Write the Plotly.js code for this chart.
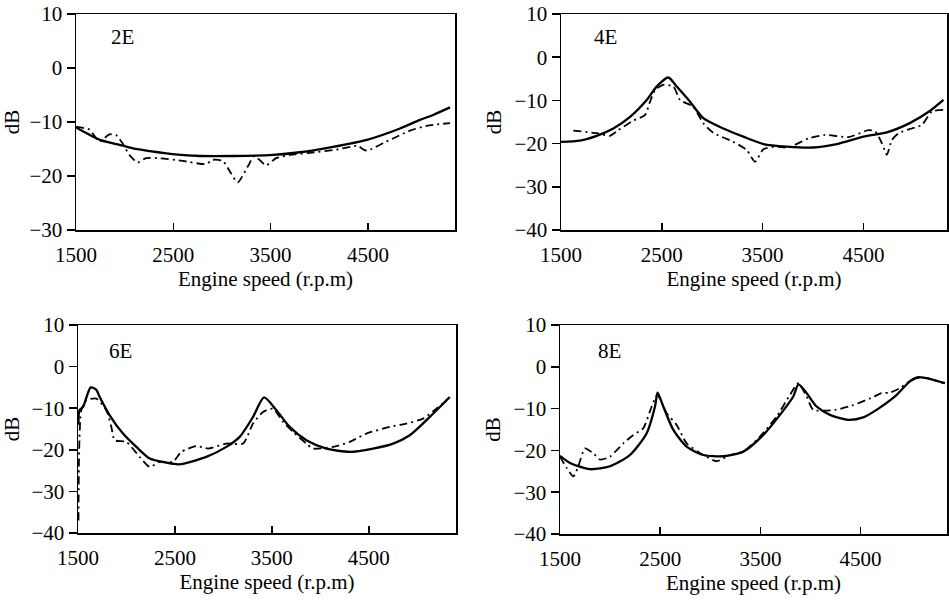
<!DOCTYPE html>
<html>
<head>
<meta charset="utf-8">
<script src="https://cdn.plot.ly/plotly-3.0.1.min.js"></script>
<style>html,body{margin:0;padding:0;background:#fff;}#chart{width:949px;height:601px;}</style>
</head>
<body>
<div id="chart"></div>
<script>
// ---- Data ----
const xTicks = [1500, 2500, 3500, 4500];
const panelLabels = ["2E", "4E", "6E", "8E"];
const xTitle = "Engine speed (r.p.m)";
const yTitle = "dB";

// 2E
const e2SolidX = [1500, 1747, 1918, 2086, 2260, 2517, 2774, 3115, 3525, 3802, 4141, 4490, 4830, 5035, 5169, 5344];
const e2SolidY = [-11.0, -13.3, -14.1, -14.9, -15.4, -16.0, -16.3, -16.3, -16.1, -15.6, -14.6, -13.3, -11.2, -9.6, -8.7, -7.3];
const e2MeasX = [1500, 1637, 1740, 1843, 1911, 1980, 2048, 2133, 2219, 2356, 2596, 2836, 2905, 3008, 3093, 3162, 3264, 3333, 3453, 3556, 3699, 3905, 4179, 4402, 4436, 4488, 4693, 4933, 5104, 5344];
const e2MeasY = [-10.9, -11.4, -13.6, -12.3, -12.4, -14.0, -16.1, -17.5, -16.7, -16.7, -17.2, -17.8, -17.0, -17.2, -19.5, -21.2, -18.3, -16.3, -18.0, -16.7, -16.1, -15.7, -15.1, -14.4, -14.9, -15.3, -13.6, -11.6, -10.7, -10.2];

// 4E
const e4SolidX = [1500, 1688, 1854, 2019, 2185, 2350, 2449, 2565, 2648, 2780, 2912, 3111, 3309, 3508, 3740, 4004, 4236, 4500, 4732, 4964, 5162, 5294];
const e4SolidY = [-19.6, -19.3, -18.2, -16.5, -13.8, -9.9, -6.8, -4.7, -6.8, -10.3, -14.1, -16.5, -18.4, -20.1, -20.7, -20.9, -20.1, -18.4, -17.4, -15.2, -12.4, -9.9];
const e4MeasX = [1622, 1854, 1986, 2068, 2217, 2333, 2383, 2433, 2515, 2615, 2681, 2813, 2912, 3011, 3210, 3342, 3425, 3508, 3640, 3756, 3955, 4121, 4352, 4551, 4617, 4683, 4732, 4782, 4848, 4980, 5079, 5178, 5294];
const e4MeasY = [-17.0, -17.6, -18.2, -16.9, -14.7, -13.4, -10.3, -7.6, -6.4, -6.8, -9.9, -11.5, -15.3, -17.5, -19.6, -21.5, -24.2, -21.3, -20.7, -20.9, -18.8, -18.0, -18.5, -16.9, -17.2, -19.9, -22.6, -19.2, -17.6, -16.5, -15.7, -12.6, -12.2];

// 6E
const e6SolidX = [1505, 1515, 1552, 1631, 1689, 1724, 1827, 1964, 2102, 2240, 2412, 2542, 2824, 3031, 3168, 3306, 3420, 3547, 3684, 3856, 4063, 4304, 4544, 4751, 4923, 5129, 5336];
const e6SolidY = [-14.0, -10.5, -9.7, -5.0, -5.6, -7.3, -11.7, -16.1, -19.3, -22.1, -23.1, -23.5, -21.7, -19.3, -16.9, -12.1, -7.4, -10.5, -14.5, -17.7, -19.7, -20.5, -19.7, -18.5, -16.5, -12.1, -7.3];
const e6MeasX = [1505, 1512, 1534, 1586, 1689, 1792, 1844, 1878, 1999, 2136, 2240, 2343, 2480, 2566, 2721, 2842, 3031, 3203, 3306, 3409, 3512, 3616, 3719, 3856, 3925, 4132, 4304, 4476, 4716, 4888, 5060, 5198, 5318];
const e6MeasY = [-37.0, -20.0, -10.5, -8.1, -7.7, -10.5, -14.5, -17.7, -18.1, -21.7, -24.1, -22.9, -22.9, -20.5, -19.1, -19.7, -18.5, -18.5, -13.7, -10.9, -10.1, -13.3, -15.7, -18.5, -19.7, -19.3, -18.1, -16.1, -14.5, -13.7, -12.5, -10.1, -7.7];

// 8E
const e8SolidX = [1500, 1600, 1799, 1999, 2198, 2365, 2448, 2474, 2531, 2631, 2764, 2930, 3130, 3329, 3529, 3695, 3828, 3880, 3961, 4061, 4194, 4377, 4526, 4659, 4843, 4992, 5076, 5225, 5342];
const e8SolidY = [-21.3, -23.0, -24.5, -23.8, -21.1, -15.9, -9.5, -6.2, -9.5, -15.1, -19.1, -21.1, -21.4, -20.3, -16.3, -11.5, -7.1, -4.2, -6.3, -9.5, -11.5, -12.7, -12.1, -10.3, -7.1, -3.5, -2.5, -3.1, -3.9];
const e8MeasX = [1500, 1567, 1633, 1683, 1749, 1833, 1899, 1999, 2132, 2232, 2331, 2415, 2471, 2564, 2664, 2764, 2930, 3063, 3196, 3329, 3495, 3662, 3795, 3878, 3961, 4028, 4245, 4411, 4600, 4711, 4790, 4900, 5025, 5158, 5324];
const e8MeasY = [-21.5, -24.2, -26.2, -23.8, -19.5, -20.7, -22.2, -21.5, -18.3, -16.3, -14.7, -9.5, -6.7, -11.1, -13.9, -18.3, -21.1, -22.6, -21.1, -20.3, -16.7, -11.9, -6.7, -3.9, -7.1, -10.3, -10.3, -9.3, -7.5, -6.3, -6.2, -5.0, -2.9, -2.7, -3.9];

// ---- Build ----
const series = [
  [e2SolidX, e2SolidY, e2MeasX, e2MeasY],
  [e4SolidX, e4SolidY, e4MeasX, e4MeasY],
  [e6SolidX, e6SolidY, e6MeasX, e6MeasY],
  [e8SolidX, e8SolidY, e8MeasX, e8MeasY]
];
const W = 949, H = 601;
// pixel boxes [left, right, top, bottom]
const boxes = [[76, 455, 14, 230], [561, 947, 14, 230], [78, 456, 325, 533], [560, 947, 325, 534]];
const xRanges = [[1500, 5395], [1500, 5329], [1500, 5400], [1500, 5362]];
const yRanges = [[-30, 10], [-40, 10], [-40, 10], [-40, 10]];
const labelPos = [[122, 37], [605, 37], [120, 351], [609, 351]];

const FAM = "Liberation Serif";
const font = {family: FAM, size: 21, color: "#000"};
const traces = [];
const layout = {
  width: W, height: H,
  margin: {l: 0, r: 0, t: 0, b: 0},
  paper_bgcolor: "#fff", plot_bgcolor: "#fff",
  showlegend: false,
  font: font,
  annotations: []
};

series.forEach((s, i) => {
  const n = i + 1;
  const xa = "x" + (n === 1 ? "" : n), ya = "y" + (n === 1 ? "" : n);
  traces.push({x: s[0], y: s[1], xaxis: xa, yaxis: ya, type: "scatter", mode: "lines",
    line: {color: "#000", width: 2.3, dash: "solid", shape: "spline", smoothing: 0.7}, hoverinfo: "skip"});
  traces.push({x: s[2], y: s[3], xaxis: xa, yaxis: ya, type: "scatter", mode: "lines",
    line: {color: "#000", width: 1.8, dash: "8px,4px,2px,4px", shape: "spline", smoothing: 0.6}, hoverinfo: "skip"});
  const b = boxes[i];
  layout["xaxis" + (n === 1 ? "" : n)] = {
    domain: [b[0] / W, b[1] / W], anchor: ya, range: xRanges[i],
    tickmode: "array", tickvals: xTicks, ticktext: xTicks.map(String),
    ticks: "inside", ticklen: 7, tickwidth: 1.5, tickcolor: "#000",
    ticklabelstandoff: 5,
    showline: true, mirror: true, linecolor: "#000", linewidth: 1.5,
    showgrid: false, zeroline: false, tickfont: font,
    title: {text: xTitle, font: font, standoff: 5}
  };
  layout["yaxis" + (n === 1 ? "" : n)] = {
    domain: [1 - b[3] / H, 1 - b[2] / H], anchor: xa, range: yRanges[i],
    dtick: 10, tick0: 0,
    ticks: "outside", ticklen: 8, tickwidth: 1.5, tickcolor: "#000",
    showline: true, mirror: true, linecolor: "#000", linewidth: 1.5,
    showgrid: false, zeroline: false, tickfont: font,
    title: {text: yTitle, font: font, standoff: 7}
  };
  layout.annotations.push({
    text: panelLabels[i], xref: "paper", yref: "paper",
    x: labelPos[i][0] / W, y: 1 - labelPos[i][1] / H,
    xanchor: "center", yanchor: "middle", showarrow: false, font: font
  });
});

Plotly.newPlot("chart", traces, layout, {staticPlot: true, displayModeBar: false});
</script>
</body>
</html>
